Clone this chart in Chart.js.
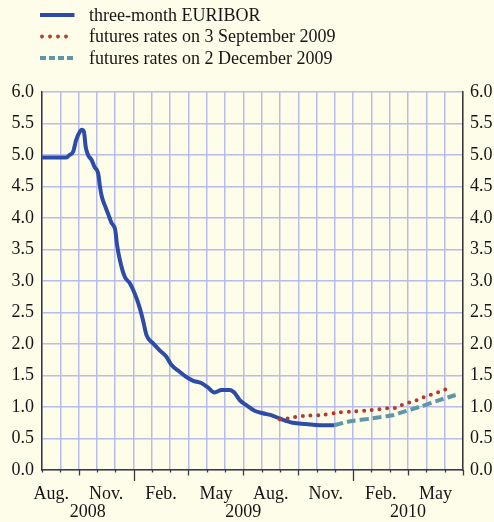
<!DOCTYPE html>
<html>
<head>
<meta charset="utf-8">
<script src="https://cdn.jsdelivr.net/npm/chart.js@4.4.1/dist/chart.umd.min.js"></script>
<style>
  html, body { margin: 0; padding: 0; background: #fefde9; }
  canvas { display: block; }
</style>
</head>
<body>
<canvas id="chart" width="494" height="522"></canvas>
<script>
// three-month EURIBOR (daily)
const euriborDates = [
  "2008-08-01", "2008-08-14", "2008-08-31", "2008-09-11", "2008-09-16", "2008-09-22",
  "2008-09-27", "2008-10-03", "2008-10-06", "2008-10-10", "2008-10-13", "2008-10-17",
  "2008-10-23", "2008-10-28", "2008-11-03", "2008-11-06", "2008-11-09", "2008-11-14",
  "2008-11-20", "2008-11-25", "2008-12-01", "2008-12-04", "2008-12-09", "2008-12-17",
  "2008-12-26", "2009-01-03", "2009-01-11", "2009-01-17", "2009-01-23", "2009-02-03",
  "2009-02-13", "2009-02-23", "2009-03-03", "2009-03-17", "2009-03-28", "2009-04-08",
  "2009-04-22", "2009-05-03", "2009-05-14", "2009-05-26", "2009-06-09", "2009-06-17",
  "2009-06-25", "2009-07-06", "2009-07-20", "2009-08-03", "2009-08-17", "2009-08-31",
  "2009-09-22", "2009-10-14", "2009-11-06", "2009-11-30"
];
const euriborValues = [
  4.96, 4.96, 4.96, 4.96, 5.00, 5.05,
  5.24, 5.37, 5.40, 5.37, 5.13, 5.00,
  4.92, 4.81, 4.71, 4.50, 4.34, 4.20,
  4.05, 3.92, 3.81, 3.58, 3.33, 3.07,
  2.96, 2.80, 2.59, 2.38, 2.14, 2.01,
  1.90, 1.80, 1.67, 1.56, 1.48, 1.42,
  1.38, 1.31, 1.23, 1.27, 1.27, 1.22,
  1.11, 1.03, 0.94, 0.90, 0.87, 0.82,
  0.75, 0.73, 0.71, 0.71
];

// futures rates on 3 September 2009
const futSepDates = [
  "2009-09-01", "2009-09-14", "2009-10-11", "2009-11-08", "2009-12-06", "2010-01-03",
  "2010-01-31", "2010-02-26", "2010-03-12", "2010-03-23", "2010-04-06", "2010-04-19",
  "2010-04-30", "2010-05-14", "2010-05-28", "2010-06-10"
];
const futSepValues = [
  0.80, 0.82, 0.86, 0.87, 0.91, 0.93,
  0.95, 0.98, 0.99, 1.04, 1.08, 1.12,
  1.17, 1.21, 1.26, 1.31
];

// futures rates on 2 December 2009
const futDecDates = [
  "2009-11-30", "2009-12-25", "2010-02-03", "2010-03-06", "2010-03-20",
  "2010-04-19", "2010-05-23", "2010-06-19"
];
const futDecValues = [0.71, 0.77, 0.82, 0.87, 0.91, 1.00, 1.11, 1.19];

// x axis: months counted from 1 August 2008 to 1 July 2010
const firstYear = 2008;
const firstMonth = 8;
const monthCount = 23;
const monthLabels = ["Aug.", "Nov.", "Feb.", "May", "Aug.", "Nov.", "Feb.", "May"];
const monthLabelEvery = 3;
const yearLabels = ["2008", "2009", "2010"];
const yearStarts = [0, 5, 17, 23];

const seriesNames = [
  "three-month EURIBOR",
  "futures rates on 3 September 2009",
  "futures rates on 2 December 2009"
];

const FONT = "'Liberation Serif', 'Times New Roman', serif";
const TEXT = "#151515";
const AXIS = "#3a3a3a";
const GRID = "#b8bce8";
const BLUE = "#2c4ca8";
const RED = "#b23a2f";
const TEAL = "#5e97aa";

function toMonths(d) {
  const [y, m, day] = d.split("-").map(Number);
  const dim = new Date(y, m, 0).getDate();
  return (y - firstYear) * 12 + (m - firstMonth) + (day - 1) / dim;
}

function points(dates, values) {
  return dates.map((d, i) => ({ x: toMonths(d), y: values[i] }));
}

// x axis ticks, month and year labels, and the legend
const decorations = {
  id: "decorations",
  beforeDraw(chart) {
    const { ctx } = chart;
    ctx.save();
    ctx.fillStyle = "#fefde9";
    ctx.fillRect(0, 0, chart.width, chart.height);
    ctx.restore();
  },
  afterDraw(chart) {
    const { ctx, chartArea } = chart;
    const x = chart.scales.x;
    const base = chartArea.bottom;
    ctx.save();

    // month ticks
    ctx.strokeStyle = AXIS;
    ctx.lineWidth = 1.3;
    for (let i = 0; i <= monthCount; i++) {
      const calMonth = (firstMonth - 1 + i) % 12;
      let len = 2.5;
      if (calMonth === 0) len = 11;
      else if (calMonth % 3 === 0) len = 5.5;
      const px = Math.round(x.getPixelForValue(i)) + 0.5;
      ctx.beginPath();
      ctx.moveTo(px, base);
      ctx.lineTo(px, base + len);
      ctx.stroke();
    }

    ctx.fillStyle = TEXT;
    ctx.font = "18px " + FONT;
    ctx.textAlign = "center";
    ctx.textBaseline = "middle";
    monthLabels.forEach((lab, i) => {
      ctx.fillText(lab, x.getPixelForValue(i * monthLabelEvery + 0.5), 494);
    });
    yearLabels.forEach((lab, i) => {
      const mid = (yearStarts[i] + yearStarts[i + 1]) / 2;
      ctx.fillText(lab, x.getPixelForValue(mid), 512);
    });

    // legend
    const rows = [15, 36.5, 58];
    ctx.font = "18px " + FONT;
    ctx.textAlign = "left";
    seriesNames.forEach((name, i) => {
      const y = rows[i];
      ctx.beginPath();
      if (i === 0) {
        ctx.strokeStyle = BLUE;
        ctx.lineWidth = 4;
        ctx.setLineDash([]);
        ctx.lineCap = "butt";
      } else if (i === 1) {
        ctx.strokeStyle = RED;
        ctx.lineWidth = 3.8;
        ctx.setLineDash([0, 8]);
        ctx.lineCap = "round";
      } else {
        ctx.strokeStyle = TEAL;
        ctx.lineWidth = 4;
        ctx.setLineDash([6, 3]);
        ctx.lineCap = "butt";
      }
      ctx.moveTo(i === 1 ? 42 : 40, y);
      ctx.lineTo(i === 1 ? 74 : 74.5, y);
      ctx.stroke();
      ctx.fillText(name, 89, y + 1);
    });
    ctx.restore();
  }
};

const tickFont = { family: FONT, size: 18 };

new Chart(document.getElementById("chart"), {
  type: "line",
  data: {
    datasets: [
      {
        label: seriesNames[1],
        data: points(futSepDates, futSepValues),
        borderColor: RED,
        borderWidth: 4,
        borderDash: [0, 7.7],
        borderCapStyle: "round",
        pointRadius: 0,
        tension: 0.3
      },
      {
        label: seriesNames[2],
        data: points(futDecDates, futDecValues),
        borderColor: TEAL,
        borderWidth: 4,
        borderDash: [9, 4],
        pointRadius: 0,
        tension: 0.3
      },
      {
        label: seriesNames[0],
        data: points(euriborDates, euriborValues),
        borderColor: BLUE,
        borderWidth: 4,
        borderJoinStyle: "round",
        pointRadius: 0,
        cubicInterpolationMode: "monotone"
      }
    ]
  },
  options: {
    responsive: false,
    animation: false,
    layout: { padding: { top: 92 } },
    plugins: {
      legend: { display: false },
      tooltip: { enabled: false }
    },
    scales: {
      x: {
        type: "linear",
        min: 0,
        max: monthCount,
        ticks: { stepSize: 1, display: false },
        grid: { color: GRID, lineWidth: 1.5, drawTicks: false },
        border: { color: AXIS, width: 1.5 },
        afterFit: (scale) => { scale.height = 52; }
      },
      y: {
        position: "left",
        min: 0,
        max: 6,
        ticks: {
          stepSize: 0.5,
          padding: 8,
          color: TEXT,
          font: tickFont,
          callback: (v) => v.toFixed(1)
        },
        grid: { color: GRID, lineWidth: 1.5, drawTicks: false },
        border: { color: AXIS, width: 1.5 },
        afterFit: (scale) => { scale.width = 42; }
      },
      y2: {
        position: "right",
        min: 0,
        max: 6,
        ticks: {
          stepSize: 0.5,
          padding: 7,
          color: TEXT,
          font: tickFont,
          callback: (v) => v.toFixed(1)
        },
        grid: { display: false, drawTicks: false },
        border: { color: AXIS, width: 1.5 },
        afterFit: (scale) => { scale.width = 31; }
      }
    }
  },
  plugins: [decorations]
});
</script>
</body>
</html>
